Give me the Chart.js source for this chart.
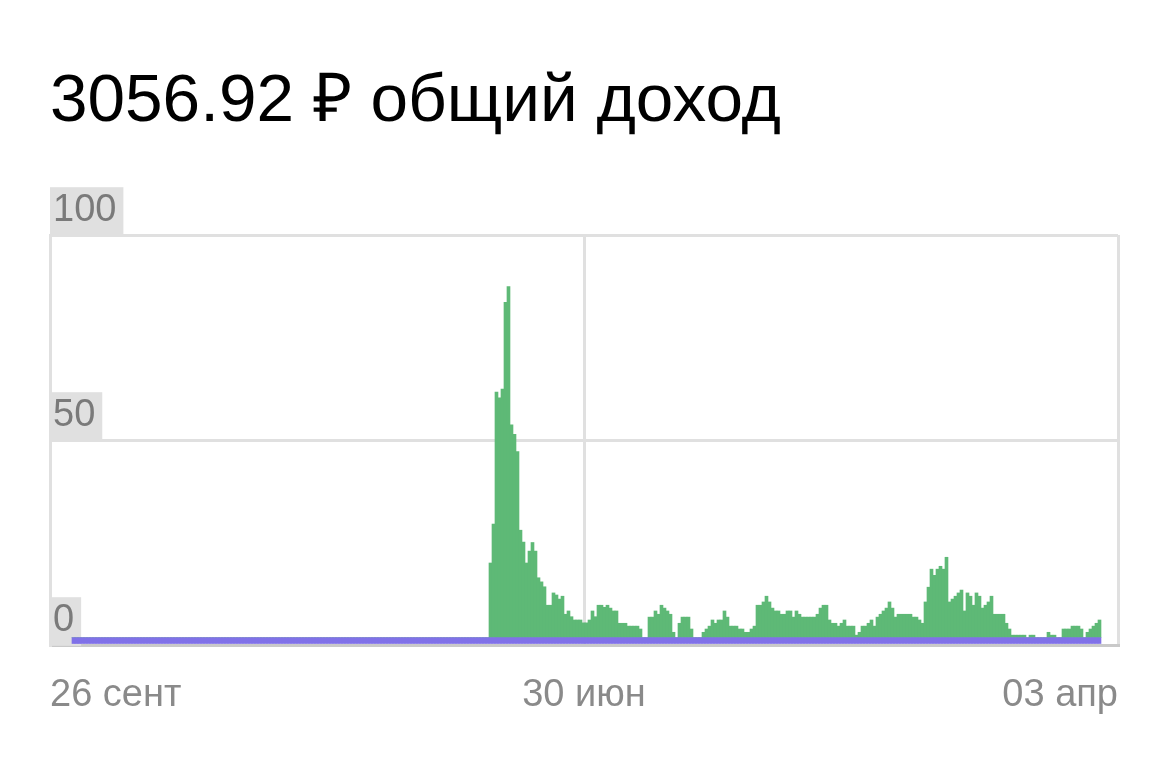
<!DOCTYPE html>
<html><head><meta charset="utf-8">
<script src="https://cdn.jsdelivr.net/npm/chart.js@4.4.1/dist/chart.umd.min.js"></script>
<style>
html,body{margin:0;padding:0;background:#fff;width:1170px;height:778px;overflow:hidden;}
#title{position:absolute;left:50px;top:64px;margin:0;font-weight:400;font-size:67.5px;line-height:67.5px;font-family:"Liberation Sans",Arial,sans-serif;color:#000;white-space:nowrap;}
#wrap{position:absolute;left:40px;top:170px;width:1090px;height:560px;}
</style></head><body>
<h1 id="title">3056.92 ₽ общий доход</h1>
<div id="wrap"><canvas id="c"></canvas></div>
<script>
// x-axis tick labels (first, middle, last day)
const xTickLabels = ["26 сент", "30 июн", "03 апр"];
const yTicks = [0, 50, 100];

// daily income (green bars)
const incomeValues = [
  0,0,0,0,0,0,0,0,0,0,0,0,0,0,0,0,0,0,0,0,
  0,0,0,0,0,0,0,0,0,0,0,0,0,0,0,0,0,0,0,0,
  0,0,0,0,0,0,0,0,0,0,0,0,0,0,0,0,0,0,0,0,
  0,0,0,0,0,0,0,0,0,0,0,0,0,0,0,0,0,0,0,0,
  0,0,0,0,0,0,0,0,0,0,0,0,0,0,0,0,0,0,0,0,
  0,0,0,0,0,0,0,0,0,0,0,0,0,0,0,0,0,0,0,0,
  0,0,0,0,0,0,0,0,0,0,0,0,0,0,0,0,0,0,0,
  18.2,27.7,59.9,58.5,60.6,81.8,85.6,51.9,49.6,45.4,26.2,23.3,18.2,21.1,23.2,21.1,14.6,13.6,12.4,7.9,
  7.9,10.9,10.4,9.4,10.1,5.7,6.5,5.1,4.3,4.3,4.3,3.6,3.6,4.3,6.5,5.1,7.9,7.9,7.4,7.9,
  7.2,6.5,6.5,
  3.5,3.5,3.5,2.8,2.8,2.8,2.8,2.1,0,0,5.0,5.0,6.5,5.7,7.9,7.2,6.5,5.7,1.3,0,
  3.5,5.0,5.0,5.0,2.1,0,0,0,1.3,2.1,2.8,4.3,3.5,4.3,4.3,6.5,5.0,2.8,2.8,2.8,
  2.1,2.1,1.3,1.3,2.1,2.8,7.9,7.9,8.7,10.1,8.7,7.2,6.5,6.5,5.7,5.7,6.5,6.5,5.0,6.5,
  5.7,5.0,5.0,5.0,5.0,5.0,5.7,7.2,7.9,7.9,4.3,3.5,3.5,2.8,3.5,4.3,2.8,2.8,2.8,0.6,
  1.3,
  2.8,2.8,3.5,4.3,2.8,5.0,5.7,6.5,7.2,8.7,7.2,5.0,5.7,5.7,5.7,5.7,5.7,5.0,5.0,4.3,
  3.5,8.7,12.3,16.7,15.2,16.7,17.4,16.7,19.6,8.7,9.4,10.1,10.9,11.6,6.5,10.9,10.1,7.9,10.9,10.1,
  7.2,7.9,8.7,10.1,5.7,5.7,5.7,5.7,3.5,2.1,0.6,0.6,0.6,0.6,0.6,0,0.6,0.6,0,0,
  0,0,1.3,0.6,0.6,0,0,2.1,2.1,2.1,2.8,2.8,2.8,2.1,0,1.3,2.1,2.8,3.5,4.3
];

// purple base strip under the bars (same small value every day)
const baseValues = [
  1.8,1.8,1.8,1.8,1.8,1.8,1.8,1.8,1.8,1.8,1.8,1.8,1.8,1.8,1.8,1.8,1.8,1.8,1.8,1.8,
  1.8,1.8,1.8,1.8,1.8,1.8,1.8,1.8,1.8,1.8,1.8,1.8,1.8,1.8,1.8,1.8,1.8,1.8,1.8,1.8,
  1.8,1.8,1.8,1.8,1.8,1.8,1.8,1.8,1.8,1.8,1.8,1.8,1.8,1.8,1.8,1.8,1.8,1.8,1.8,1.8,
  1.8,1.8,1.8,1.8,1.8,1.8,1.8,1.8,1.8,1.8,1.8,1.8,1.8,1.8,1.8,1.8,1.8,1.8,1.8,1.8,
  1.8,1.8,1.8,1.8,1.8,1.8,1.8,1.8,1.8,1.8,1.8,1.8,1.8,1.8,1.8,1.8,1.8,1.8,1.8,1.8,
  1.8,1.8,1.8,1.8,1.8,1.8,1.8,1.8,1.8,1.8,1.8,1.8,1.8,1.8,1.8,1.8,1.8,1.8,1.8,1.8,
  1.8,1.8,1.8,1.8,1.8,1.8,1.8,1.8,1.8,1.8,1.8,1.8,1.8,1.8,1.8,1.8,1.8,1.8,1.8,1.8,
  1.8,1.8,1.8,1.8,1.8,1.8,1.8,1.8,1.8,1.8,1.8,1.8,1.8,1.8,1.8,1.8,1.8,1.8,1.8,1.8,
  1.8,1.8,1.8,1.8,1.8,1.8,1.8,1.8,1.8,1.8,1.8,1.8,1.8,1.8,1.8,1.8,1.8,1.8,1.8,1.8,
  1.8,1.8,1.8,1.8,1.8,1.8,1.8,1.8,1.8,1.8,1.8,1.8,1.8,1.8,1.8,1.8,1.8,1.8,1.8,1.8,
  1.8,1.8,1.8,1.8,1.8,1.8,1.8,1.8,1.8,1.8,1.8,1.8,1.8,1.8,1.8,1.8,1.8,1.8,1.8,1.8,
  1.8,1.8,1.8,1.8,1.8,1.8,1.8,1.8,1.8,1.8,1.8,1.8,1.8,1.8,1.8,1.8,1.8,1.8,1.8,1.8,
  1.8,1.8,1.8,1.8,1.8,1.8,1.8,1.8,1.8,1.8,1.8,1.8,1.8,1.8,1.8,1.8,1.8,1.8,1.8,1.8,
  1.8,1.8,1.8,1.8,1.8,1.8,1.8,1.8,1.8,1.8,1.8,1.8,1.8,1.8,1.8,1.8,1.8,1.8,1.8,1.8,
  1.8,1.8,1.8,1.8,1.8,1.8,1.8,1.8,1.8,1.8,1.8,1.8,1.8,1.8,1.8,1.8,1.8,1.8,1.8,1.8,
  1.8,1.8,1.8,1.8,1.8,1.8,1.8,1.8,1.8,1.8,1.8,1.8,1.8,1.8,1.8,1.8,1.8,1.8,1.8,1.8,
  1.8,1.8,1.8,1.8,1.8,1.8,1.8,1.8,1.8,1.8,1.8,1.8,1.8,1.8,1.8,1.8,1.8,1.8,1.8,1.8,
  1.8,1.8,1.8
];

Chart.defaults.font.family = '"Liberation Sans", Arial, sans-serif';

const toPoints = arr => arr.map((v, i) => ({ x: i, y: v }));
const barOpts = { barPercentage: 1, categoryPercentage: 1, borderWidth: 0 };

new Chart(document.getElementById('c'), {
  type: 'bar',
  data: {
    datasets: [
      Object.assign({ label: 'база', data: toPoints(baseValues), backgroundColor: '#8071e8' }, barOpts),
      Object.assign({ label: 'доход', data: toPoints(incomeValues), backgroundColor: '#5eb976' }, barOpts)
    ]
  },
  options: {
    responsive: true,
    maintainAspectRatio: false,
    animation: false,
    layout: { padding: { left: 10, right: 12, top: 65, bottom: 5 } },
    plugins: { legend: { display: false }, tooltip: { enabled: false } },
    scales: {
      x: {
        type: 'linear',
        stacked: true,
        offset: false,
        min: -7.83,
        max: 348.17,
        afterBuildTicks: s => {
          s.ticks = [s.min, (s.min + s.max) / 2, s.max].map(v => ({ value: v }));
        },
        afterFit: s => { s.height = 80; s.paddingLeft = 0; s.paddingRight = 0; },
        ticks: {
          align: 'inner',
          autoSkip: false,
          maxRotation: 0,
          padding: 28,
          color: '#8a8a8a',
          font: { size: 38 },
          callback: (v, i) => xTickLabels[i]
        },
        grid: { color: '#e0e0e0', lineWidth: 3, drawTicks: false, offset: false },
        border: { display: true, color: '#c9c9c9', width: 3 }
      },
      y: {
        stacked: true,
        min: yTicks[0],
        max: yTicks[yTicks.length - 1],
        afterFit: s => { s.width = 0; s.paddingTop = 0; s.paddingBottom = 0; },
        ticks: {
          stepSize: yTicks[1] - yTicks[0],
          mirror: true,
          padding: 3,
          labelOffset: -24,
          color: '#7a7a7a',
          font: { size: 38 },
          showLabelBackdrop: true,
          backdropColor: '#e0e0e0',
          backdropPadding: { top: 1, bottom: 2, left: 3, right: 7 }
        },
        grid: { color: '#e0e0e0', lineWidth: 3, drawTicks: false },
        border: { display: true, color: '#e0e0e0', width: 3 }
      }
    }
  }
});
</script>
</body></html>
